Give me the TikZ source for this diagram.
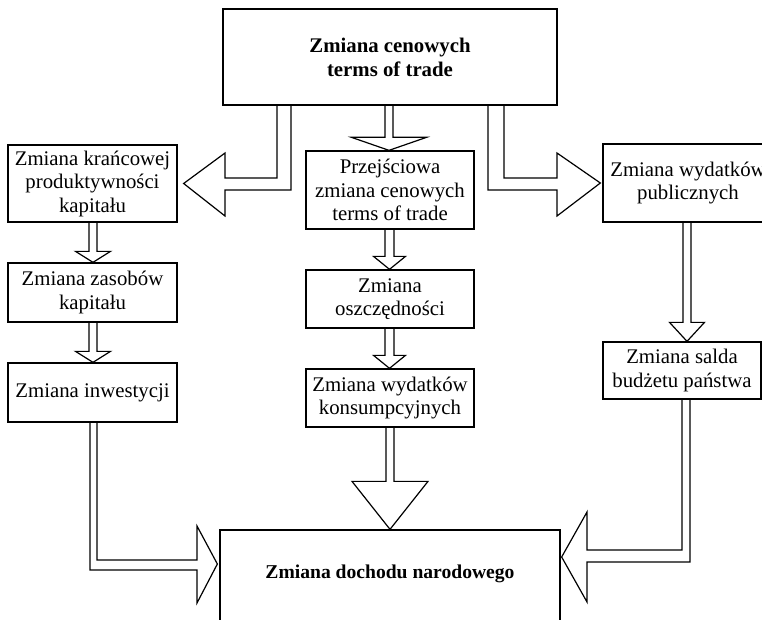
\documentclass[tikz,border=0pt]{standalone}
\usepackage{fontspec}
\setmainfont{Liberation Serif}
\usetikzlibrary{calc}
\tikzset{
  box/.style={draw, line width=1.3pt, inner sep=1pt, align=center,
    font=\fontsize{20.8pt}{23.5pt}\selectfont},
  boldbox/.style={box, font=\fontsize{20.8pt}{24pt}\selectfont\bfseries},
  bottomtext/.style={inner sep=0pt, font=\fontsize{19.6pt}{23pt}\selectfont\bfseries},
  barrow/.style={draw, line width=1.2pt, line join=miter}
}
% #1 from node, #2 to node, #3 x centre, #4 half stem, #5 half head, #6 head length
\newcommand\myvarrow[6]{%
  \draw[barrow] let \p1=(#1.south), \p2=(#2.north) in
    ({#3pt-#4pt},\y1) -- ({#3pt-#4pt},{\y2+#6pt}) -- ({#3pt-#5pt},{\y2+#6pt})
    -- (#3pt,\y2) -- ({#3pt+#5pt},{\y2+#6pt}) -- ({#3pt+#4pt},{\y2+#6pt})
    -- ({#3pt+#4pt},\y1);}
\begin{document}
\begin{tikzpicture}[x=1pt,y=1pt]
\useasboundingbox (0,0) rectangle (762,-620);
\fill[white] (0,0) rectangle (762,-620);
\clip (0,0) rectangle (762,-620);

% top
\node[boldbox, minimum width=334, minimum height=96] (top) at (390,-57)
  {Zmiana cenowych\\terms of trade};

% left column
\node[box, minimum width=169, minimum height=77] (kran) at (92.5,-183.5)
  {Zmiana krańcowej\\produktywności\\kapitału};
\node[box, minimum width=169, minimum height=59] (zas) at (92.5,-292.5)
  {Zmiana zasobów\\kapitału};
\node[box, minimum width=169, minimum height=59] (inw) at (92.5,-392.5)
  {Zmiana inwestycji};

% middle column
\node[box, minimum width=168, minimum height=78] (przej) at (390,-190)
  {Przejściowa\\zmiana cenowych\\terms of trade};
\node[box, minimum width=168, minimum height=58] (osz) at (390,-299)
  {Zmiana\\oszczędności};
\node[box, minimum width=168, minimum height=58] (kons) at (390,-398)
  {Zmiana wydatków\\konsumpcyjnych};

% right column
\node[box, minimum width=170, minimum height=78] (pub) at (688,-183)
  {Zmiana wydatków\\publicznych};
\node[box, minimum width=158, minimum height=57] (salda) at (682,-370.5)
  {Zmiana salda\\budżetu państwa};

% bottom
\node[draw, line width=1.3pt, minimum width=340, minimum height=110] (doch) at (390,-585) {};
\node[bottomtext] (dochtxt) at (390,-573.5) {Zmiana dochodu narodowego};

% vertical block arrows
\myvarrow{top}{przej}{389}{4}{37.5}{13}
\myvarrow{przej}{osz}{389.5}{4.5}{16}{13}
\myvarrow{osz}{kons}{389.5}{4.5}{16}{13}
\myvarrow{kons}{doch}{390}{4}{38}{48}
\myvarrow{kran}{zas}{93}{4}{17.5}{11}
\myvarrow{zas}{inw}{93}{4}{17.5}{11}
\myvarrow{pub}{salda}{687}{4}{17.5}{19}

% elbow block arrows
\draw[barrow] let \p1=(top.south), \p2=(kran.east) in
  (291pt,\y1) -- (291pt,-190pt) -- (225pt,-190pt) -- (225pt,-216pt)
  -- ({\x2+6pt},\y2) -- (225pt,-153pt) -- (225pt,-178pt) -- (277pt,-178pt)
  -- (277pt,\y1);
\draw[barrow] let \p1=(top.south), \p2=(pub.west) in
  (488pt,\y1) -- (488pt,-190pt) -- (557pt,-190pt) -- (557pt,-216pt)
  -- ({\x2-2pt},\y2) -- (557pt,-153pt) -- (557pt,-178pt) -- (504pt,-178pt)
  -- (504pt,\y1);
\draw[barrow] let \p1=(inw.south), \p2=(doch.west) in
  (90pt,\y1) -- (90pt,-570pt) -- (197pt,-570pt) -- (197pt,-603pt)
  -- ({\x2-2pt},-564pt) -- (197pt,-526pt) -- (197pt,-560pt) -- (97pt,-560pt)
  -- (97pt,\y1);
\draw[barrow] let \p1=(salda.south), \p2=(doch.east) in
  (682pt,\y1) -- (682pt,-550pt) -- (587pt,-550pt) -- (587pt,-512pt)
  -- ({\x2+1pt},-557pt) -- (587pt,-602pt) -- (587pt,-562pt) -- (690pt,-562pt)
  -- (690pt,\y1);
\end{tikzpicture}
\end{document}
